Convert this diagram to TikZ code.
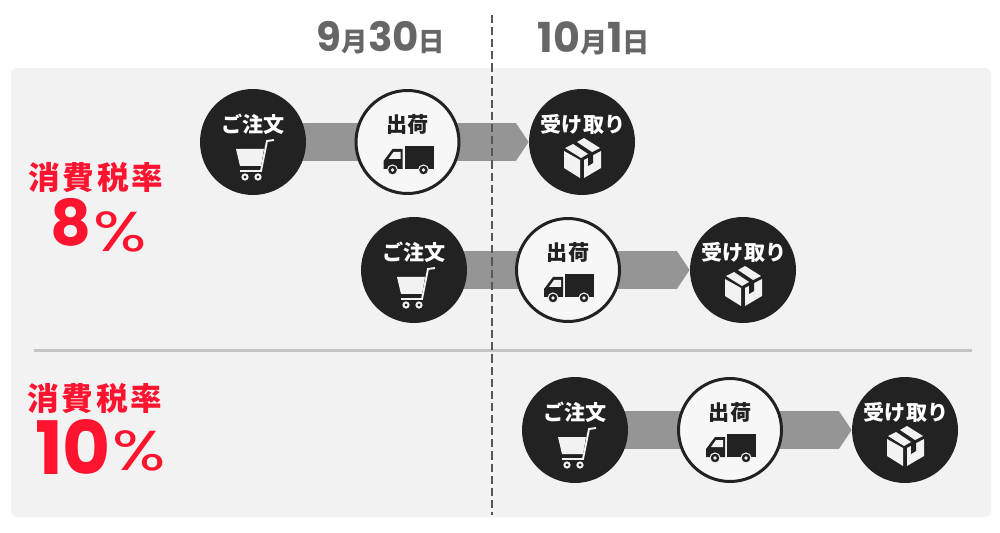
\documentclass[tikz,border=0pt]{standalone}
\usepackage{fontspec}
\setmainfont{Noto Sans CJK JP}
\newfontfamily\jpspaced{Noto Sans CJK JP}[LetterSpace=9]
\newfontfamily\numfont{Poppins}
\newfontfamily\pctfont{Poppins}[FakeStretch=1.25]
\usetikzlibrary{arrows.meta,backgrounds}
\definecolor{panelgray}{HTML}{F2F2F2}
\definecolor{circledark}{HTML}{222222}
\definecolor{bandgray}{HTML}{959595}
\definecolor{rulegray}{HTML}{C4C4C4}
\definecolor{dategray}{HTML}{666666}
\definecolor{taxred}{HTML}{FF1430}
\tikzset{
  orderdot/.style={circle,fill=circledark,draw=none,inner sep=0pt,minimum size=2.12cm},
  shipdot/.style={circle,fill=panelgray!60!white,draw=circledark,line width=1.7pt,inner sep=0pt,minimum size=2.06cm},
  band/.style={bandgray,line width=38*0.569pt},
  bandtip/.style={band,-{Triangle[length=7.4pt,width=21.63pt]}},
  datetext/.style={text=dategray,inner sep=0pt,font=\bfseries},
  ratetext/.style={text=taxred,inner sep=0pt,font=\bfseries},
  pcttext/.style={text=taxred,inner sep=0pt},
  steptext/.style={inner sep=0pt,font=\fontsize{12}{14}\selectfont\bfseries},
  orderpic/.pic={
    \node[steptext,text=white] (-label) at (0,-18) {ご注文};
    \fill[panelgray] (-17,7) -- (11,7) -- (8,24) -- (-13,24) -- cycle;
    \draw[panelgray,line width=1.1pt] (21,-2) -- (14,-1) -- (8,29) -- (-13,29);
    \draw[panelgray,line width=1.1pt] (-8,35) circle (2.6) (5,35) circle (2.6);
  },
  shippic/.pic={
    \node[steptext,text=circledark] (-label) at (0,-18) {出荷};
    \fill[circledark] (-3,4) rectangle (26,27);
    \fill[circledark] (-5,7) -- (-15,7) -- (-24,19) -- (-24,27) -- (-5,27) -- cycle;
    \fill[panelgray] (-7,10) -- (-14,10) -- (-19,17) -- (-7,17) -- cycle;
    \filldraw[fill=circledark,draw=panelgray,line width=0.6pt] (-15,28) circle (5) (16,28) circle (5);
    \fill[panelgray] (-15,28) circle (1.8) (16,28) circle (1.8);
  },
  recvpic/.pic={
    \node[steptext,text=white] (-label) at (1,-18) {受け取り};
    \fill[panelgray] (-18,9) -- (-2,18) -- (-2,36) -- (-18,26) -- cycle;
    \fill[panelgray] (2,18) -- (19,9) -- (19,26) -- (2,36) -- cycle;
    \fill[panelgray] (-17,6) -- (-9,2) -- (6,12) -- (-1,16) -- cycle;
    \fill[panelgray] (-5,0) -- (2,-4) -- (18,6) -- (10,10) -- cycle;
    \fill[circledark] (6,15) -- (11,12) -- (11,21) -- (6,24) -- cycle;
  }
}
\begin{document}
\begin{tikzpicture}[x=0.02cm,y=-0.02cm]
        \useasboundingbox (0,0) rectangle (1000,533);
        % first row
        \node[orderdot] (order1) at (253,142) {};
        \node[shipdot] (ship1) at (407.5,142) {};
        \node[orderdot] (recv1) at (582,142) {};
        % second row
        \node[orderdot] (order2) at (414,270) {};
        \node[shipdot] (ship2) at (568,270) {};
        \node[orderdot] (recv2) at (743,270) {};
        % third row
        \node[orderdot] (order3) at (575,430) {};
        \node[shipdot] (ship3) at (730,430) {};
        \node[orderdot] (recv3) at (905,430) {};
        \begin{scope}[on background layer]
          \fill[white] (0,0) rectangle (1000,533);
          \fill[panelgray,rounded corners=0.12cm] (11,68) rectangle (991,517);
          \draw[rulegray,line width=1.7pt] (34,350.5) -- (972,350.5);
          \draw[band] (order1.center) -- (ship1.center);
          \draw[bandtip] (ship1.center) -- (recv1.west);
          \draw[band] (order2.center) -- (ship2.center);
          \draw[bandtip] (ship2.center) -- (recv2.west);
          \draw[band] (order3.center) -- (ship3.center);
          \draw[bandtip] (ship3.center) -- (recv3.west);
        \end{scope}
        \pic (cart1) at (order1) {orderpic};
        \pic (truck1) at (ship1) {shippic};
        \pic (box1) at (recv1) {recvpic};
        \pic (cart2) at (order2) {orderpic};
        \pic (truck2) at (ship2) {shippic};
        \pic (box2) at (recv2) {recvpic};
        \pic (cart3) at (order3) {orderpic};
        \pic (truck3) at (ship3) {shippic};
        \pic (box3) at (recv3) {recvpic};
        % date line and labels
        \coordinate (datetop) at (492,15);
        \coordinate (datebottom) at (492,515);
        \draw[dategray!85!black,line width=1.1pt,dash pattern=on 4.6pt off 2.3pt] (datetop) -- (datebottom);
        \node[datetext,anchor=base] (sept) at (381,51.5) {\numfont\fontsize{23}{24}\selectfont 9\rmfamily\fontsize{15}{16}\selectfont 月\numfont\fontsize{23}{24}\selectfont 30\rmfamily\fontsize{15}{16}\selectfont 日};
        \node[datetext,anchor=base] (oct) at (594,52.5) {\numfont\fontsize{23.5}{24}\selectfont 10\rmfamily\fontsize{15.5}{16}\selectfont 月\numfont\fontsize{23.5}{24}\selectfont 1\rmfamily\fontsize{15.5}{16}\selectfont 日};
        % tax labels
        \node[ratetext] (taxname8) at (96,178) {\jpspaced\fontsize{18}{20}\selectfont 消費税率};
        \node[ratetext] (taxrate8) at (70.5,222) {\numfont\fontsize{36}{40}\selectfont 8};
        \node[pcttext] (taxpct8) at (120,231.5) {\pctfont\fontsize{32}{36}\selectfont\%};
        \node[ratetext] (taxname10) at (95,399) {\jpspaced\fontsize{18}{20}\selectfont 消費税率};
        \node[ratetext] (taxrate10) at (73,447.5) {\numfont\fontsize{42}{46}\selectfont 10};
        \node[pcttext] (taxpct10) at (139,451) {\pctfont\fontsize{32}{36}\selectfont\%};
      \end{tikzpicture}
\end{document}
